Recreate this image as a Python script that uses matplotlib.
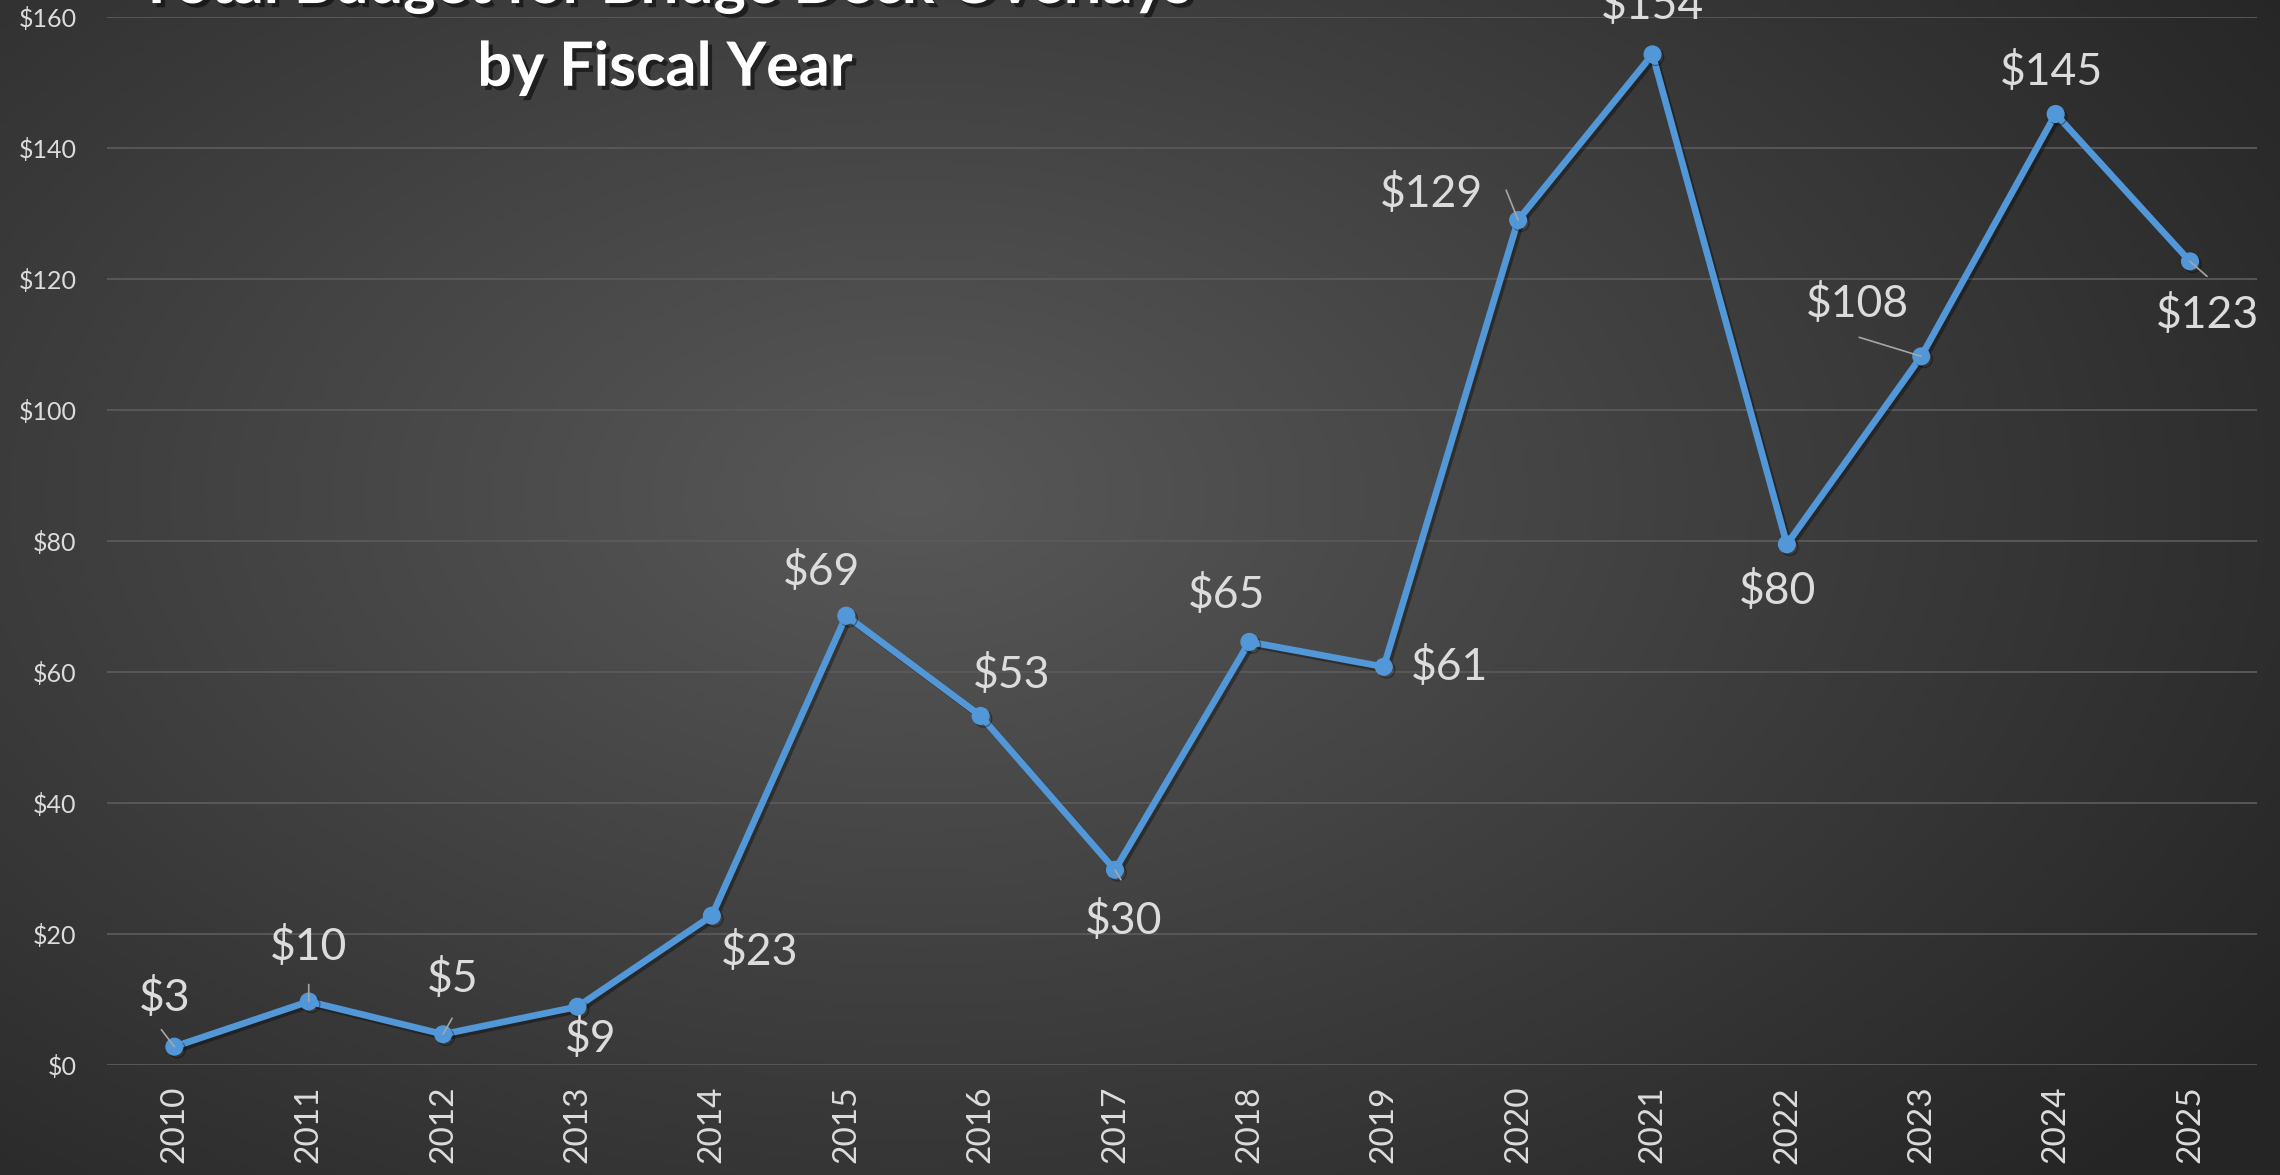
import numpy as np
import matplotlib
matplotlib.use("Agg")
import matplotlib.pyplot as plt
import matplotlib.patheffects as pe
from matplotlib.colors import LinearSegmentedColormap

# chart data (millions of dollars)
years = ['2010', '2011', '2012', '2013', '2014', '2015', '2016', '2017',
         '2018', '2019', '2020', '2021', '2022', '2023', '2024', '2025']
budget = [2.8, 9.7, 4.7, 8.9, 22.8, 68.6, 53.3, 29.8,
          64.6, 60.8, 129.0, 154.3, 79.5, 108.2, 145.2, 122.7]
y_ticks = [0, 20, 40, 60, 80, 100, 120, 140, 160]
title_lines = ['Total Budget for Bridge Deck Overlays', 'by Fiscal Year']

# where each data label sits relative to its point (pixels)
label_offsets = [(-10, 49), (0, 54), (10, 55), (13, -32), (48, -36), (-25, 44),
                 (31, 41), (9, -51), (-23, 47), (66, 0), (-87, 26), (0, 48),
                 (-9, -47), (-64, 52), (-4, 42), (17, -54)]
# leader lines: index -> start offset of the line (pixels)
leaders = {0: (-13, 17), 1: (0, 17), 2: (9, 16), 7: (6, -10),
           10: (-12, 30), 13: (-62, 19), 15: (17, -15)}

BLUE = '#5297d8'
TXT = '#dcdcdc'

fig = plt.figure(figsize=(22.8, 11.75), dpi=100)

# radial gradient background
bg = fig.add_axes([0, 0, 1, 1], zorder=-10)
h, w = 400, 780
yy, xx = np.mgrid[0:h, 0:w]
r = np.sqrt(((xx / w - 0.40) / 0.72) ** 2 + ((yy / h - 0.42) / 0.85) ** 2)
grad = np.clip(r, 0, 1)
cmap = LinearSegmentedColormap.from_list('bg', ['#585858', '#252525'])
bg.imshow(grad, cmap=cmap, aspect='auto', extent=[0, 1, 0, 1], vmin=0, vmax=1)
bg.axis('off')

ax = fig.add_axes([0.047, 0.0936, 0.943, 0.8919])
ax.set_facecolor('none')
x = np.arange(len(years))

ax.plot(x, budget, color=BLUE, lw=4.8, marker='o', markersize=12,
        markeredgecolor=BLUE, zorder=5, solid_joinstyle='round',
        path_effects=[pe.SimpleLineShadow(offset=(2, -2), alpha=0.35), pe.Normal()])

for i, v in enumerate(budget):
    dx, dy = label_offsets[i]
    ax.annotate(f'${v:.0f}', xy=(i, v), xytext=(dx, dy), textcoords='offset pixels',
                ha='center', va='center', fontsize=32, color=TXT, family='Lato', zorder=6)
for i, (lx, ly) in leaders.items():
    ax.annotate('', xy=(i, budget[i]), xytext=(lx, ly), textcoords='offset pixels',
                arrowprops=dict(arrowstyle='-', color='#a6a6a6', lw=1.2,
                                shrinkA=0, shrinkB=0), zorder=7)

ax.set_xlim(-0.5, len(years) - 0.5)
ax.set_ylim(0, 160)
ax.set_yticks(y_ticks)
ax.set_yticklabels([f'${t}' for t in y_ticks])
ax.set_xticks(x)
ax.set_xticklabels(years, rotation=90)
ax.grid(axis='y', color='#5a5a5a', lw=1.3)
ax.set_axisbelow(True)
for s in ax.spines.values():
    s.set_visible(False)
ax.tick_params(axis='y', length=0, pad=22, labelsize=18, labelcolor=TXT)
ax.tick_params(axis='x', length=0, pad=15, labelsize=24, labelcolor=TXT)
for lab in ax.get_xticklabels() + ax.get_yticklabels():
    lab.set_family('Lato')

shadow = [pe.withSimplePatchShadow(offset=(3, -3), shadow_rgbFace='black', alpha=0.5)]
fig.text(665 / 2280, 0.9974, title_lines[0], ha='center', va='baseline', fontsize=44,
         fontweight='bold', color='white', family='Lato', path_effects=shadow)
fig.text(665 / 2280, 0.927, title_lines[1], ha='center', va='baseline', fontsize=44,
         fontweight='bold', color='white', family='Lato', path_effects=shadow)

fig.savefig('out.png', dpi=100)
